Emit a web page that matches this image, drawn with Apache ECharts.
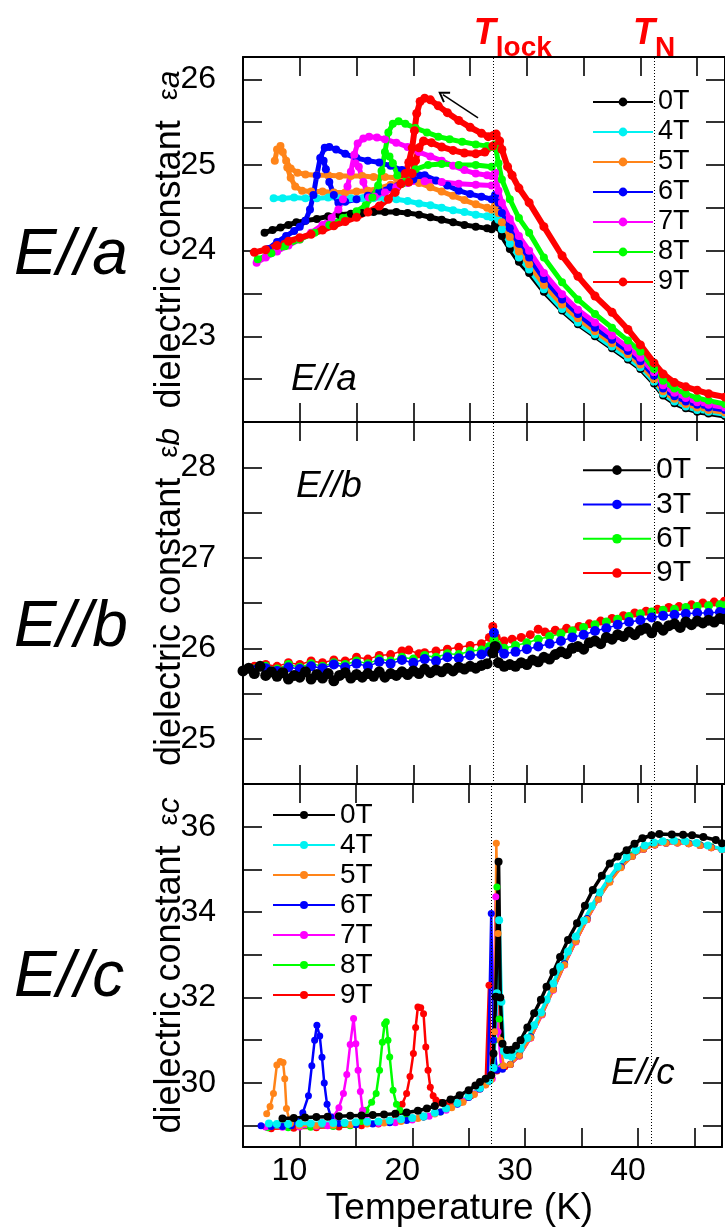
<!DOCTYPE html>
<html>
<head>
<meta charset="utf-8">
<script src="https://cdn.jsdelivr.net/npm/echarts@6/dist/echarts.min.js"></script>
<style>
html,body{margin:0;padding:0;background:#fff}
#chart{width:725px;height:1229px}
</style>
</head>
<body>
<div id="chart"></div>
<script>
// Transition temperatures (K)
const T_LOCK = 27.0;
const T_N = 41.2;

// Field labels and colours per panel
const aFields = ['0T', '4T', '5T', '6T', '7T', '8T', '9T'];
const aColors = ['#000000', '#00f2f2', '#ff8419', '#0000ff', '#ff00ff', '#00ff00', '#ff0000'];
const bFields = ['0T', '3T', '6T', '9T'];
const bColors = ['#000000', '#0000ff', '#00ff00', '#ff0000'];
const cFields = ['0T', '4T', '5T', '6T', '7T', '8T', '9T'];
const cColors = aColors;

// Tick values
const xTicks = [10, 20, 30, 40];
const aYTicks = [22.5, 23, 23.5, 24, 24.5, 25, 25.5, 26];
const aYLabels = [23, 24, 25, 26];
const bYTicks = [25, 25.5, 26, 26.5, 27, 27.5, 28];
const bYLabels = [25, 26, 27, 28];
const cYTicks = [29, 30, 31, 32, 33, 34, 35, 36];
const cYLabels = [30, 32, 34, 36];

// ---- E//a : [T (K), epsilon_a] ----
const aT0 = [[6.9,24.21],[7.6,24.24],[8.3,24.27],[9.0,24.3],[9.7,24.33],[10.5,24.35],[11.5,24.37],[12.5,24.4],[13.5,24.42],[14.5,24.43],[15.5,24.44],[16.5,24.45],[17.5,24.45],[18.5,24.45],[19.5,24.44],[20.5,24.42],[21.5,24.39],[22.5,24.36],[23.5,24.33],[24.5,24.3],[25.5,24.28],[26.5,24.26],[26.9,24.25],[27.2,24.31],[27.5,24.27],
  [27.8,24.17],[28.5,24.02],[29.3,23.87],[30.2,23.74],[31.5,23.52],[33.1,23.30],[34.5,23.14],[36.0,23.0],[37.5,22.86],[38.9,22.73],[40.0,22.62],[41.2,22.45],[42.0,22.31],[43.0,22.22],[44.0,22.16],[45.0,22.12],[46.0,22.1],[47.45,22.07]];
const aT4 = [[7.7,24.61],[8.5,24.61],[9.5,24.62],[10.5,24.61],[11.5,24.61],[12.5,24.62],[13.5,24.61],[14.5,24.61],[15.5,24.61],[16.5,24.61],[17.5,24.61],[18.5,24.6],[19.5,24.58],[20.5,24.55],[21.5,24.53],[22.5,24.5],[23.5,24.47],[24.5,24.45],[25.5,24.42],[26.5,24.4],[26.9,24.39],[27.2,24.43],[27.5,24.36],
  [27.8,24.25],[28.5,24.08],[29.3,23.92],[30.2,23.78],[31.5,23.55],[33.1,23.32],[34.5,23.16],[36.0,23.02],[37.5,22.88],[38.9,22.75],[40.0,22.64],[41.2,22.47],[42.0,22.33],[43.0,22.24],[44.0,22.18],[45.0,22.14],[46.0,22.12],[47.45,22.09]];
const aT5 = [[7.8,25.05],[8.0,25.18],[8.3,25.22],[8.5,25.15],[8.8,25.05],[9.2,24.96],[9.8,24.91],[10.5,24.89],[11.5,24.88],[12.5,24.88],[13.5,24.87],[14.5,24.87],[15.5,24.87],[16.5,24.86],[17.5,24.86],[18.5,24.85],[19.5,24.83],[20.5,24.79],[21.5,24.74],[22.5,24.69],[23.5,24.64],[24.5,24.59],[25.5,24.54],[26.5,24.5],[26.9,24.48],[27.2,24.53],[27.5,24.44],
  [27.8,24.33],[28.5,24.16],[29.3,23.99],[30.2,23.84],[31.5,23.6],[33.1,23.37],[34.5,23.21],[36.0,23.06],[37.5,22.92],[38.9,22.79],[40.0,22.67],[41.2,22.5],[42.0,22.36],[43.0,22.27],[44.0,22.21],[45.0,22.17],[46.0,22.14],[47.45,22.11]];
const aT5b = [[19.0,24.8],[18.0,24.77],[17.0,24.73],[16.0,24.7],[15.0,24.69],[14.0,24.68],[13.0,24.68],[12.0,24.69],[11.0,24.69],[10.2,24.7],[9.6,24.75],[9.2,24.85],[8.9,24.97]];
const aT6 = [[7.2,24.02],[8.0,24.1],[8.8,24.17],[9.5,24.23],[10.0,24.28],[10.5,24.35],[10.9,24.48],[11.2,24.65],[11.5,24.88],[11.8,25.08],[12.2,25.2],[12.6,25.21],[13.2,25.18],[14.0,25.13],[15.0,25.08],[16.0,25.05],[17.0,25.03],[18.0,24.99],[19.0,24.94],[20.0,24.91],[21.0,24.88],[22.0,24.82],[23.0,24.76],[24.0,24.7],[25.0,24.66],[26.0,24.63],[26.9,24.6],[27.2,24.65],[27.5,24.56],
  [27.8,24.44],[28.5,24.26],[29.3,24.08],[30.2,23.92],[31.5,23.67],[33.1,23.43],[34.5,23.26],[36.0,23.10],[37.5,22.96],[38.9,22.83],[40.0,22.71],[41.2,22.54],[42.0,22.39],[43.0,22.3],[44.0,22.24],[45.0,22.2],[46.0,22.17],[47.45,22.14]];
const aT6b = [[21.0,24.86],[20.0,24.83],[19.0,24.79],[18.0,24.74],[17.0,24.69],[16.0,24.64],[15.0,24.6],[14.0,24.57],[13.4,24.56],[13.0,24.65],[12.6,24.8],[12.3,24.95],[12.1,25.05]];
const aT7 = [[6.2,23.86],[7.0,23.92],[8.0,23.99],[9.0,24.06],[10.0,24.13],[11.0,24.21],[12.0,24.3],[12.8,24.38],[13.4,24.48],[13.8,24.6],[14.2,24.75],[14.5,24.92],[14.8,25.12],[15.1,25.25],[15.6,25.31],[16.1,25.33],[16.8,25.32],[17.5,25.3],[18.5,25.26],[19.5,25.21],[20.5,25.15],[21.5,25.1],[22.5,25.05],[23.5,24.99],[24.5,24.94],[25.5,24.9],[26.5,24.88],[26.9,24.87],[27.2,24.91],[27.5,24.7],
  [27.8,24.56],[28.5,24.37],[29.3,24.17],[30.2,24.0],[31.5,23.74],[33.1,23.49],[34.5,23.31],[36.0,23.16],[37.5,23.01],[38.9,22.87],[40.0,22.75],[41.2,22.58],[42.0,22.43],[43.0,22.34],[44.0,22.28],[45.0,22.23],[46.0,22.2],[47.45,22.17]];
const aT7b = [[26.9,24.76],[25.5,24.77],[24.0,24.78],[22.5,24.8],[21.0,24.81],[19.5,24.79],[18.5,24.74],[17.5,24.68],[16.6,24.63],[16.1,24.62],[15.6,24.8],[15.2,24.98],[14.9,25.02]];
const aT8 = [[6.3,23.9],[7.5,23.97],[8.7,24.05],[10.0,24.13],[11.3,24.21],[12.6,24.3],[13.8,24.38],[15.0,24.46],[15.8,24.53],[16.4,24.62],[16.9,24.76],[17.2,24.93],[17.5,25.15],[17.8,25.38],[18.2,25.48],[18.7,25.51],[19.3,25.48],[20.2,25.43],[21.2,25.38],[22.2,25.33],[23.2,25.3],[24.3,25.27],[25.5,25.24],[26.5,25.22],[26.9,25.21],[27.2,25.24],[27.5,25.02],
  [27.8,24.83],[28.5,24.6],[29.3,24.38],[30.2,24.21],[31.5,23.92],[33.1,23.63],[34.5,23.43],[36.0,23.26],[37.5,23.1],[38.9,22.95],[40.0,22.82],[41.2,22.62],[42.0,22.48],[43.0,22.39],[44.0,22.33],[45.0,22.28],[46.0,22.25],[47.45,22.21]];
const aT8b = [[26.9,24.98],[25.5,25.0],[24.0,25.0],[22.5,25.01],[21.3,25.0],[20.2,24.95],[19.4,24.83],[19.0,24.78],[18.6,24.88],[18.2,25.02],[17.9,25.1]];
const aT9 = [[6.0,23.98],[7.0,24.01],[8.0,24.06],[9.0,24.11],[10.0,24.15],[11.0,24.19],[12.0,24.24],[13.0,24.29],[14.0,24.34],[15.0,24.39],[16.0,24.45],[17.0,24.52],[17.8,24.6],[18.4,24.68],[18.9,24.78],[19.3,24.9],[19.6,25.03],[19.9,25.2],[20.1,25.4],[20.3,25.6],[20.6,25.74],[21.0,25.78],[21.5,25.76],[22.2,25.69],[23.0,25.61],[24.0,25.52],[25.0,25.44],[26.0,25.37],[26.6,25.33],[27.0,25.34],[27.3,25.36],[27.6,25.28],
  [27.8,25.18],[28.3,24.98],[28.7,24.88],[29.3,24.73],[30.2,24.56],[31.5,24.28],[33.1,23.94],[34.5,23.7],[36.0,23.47],[37.5,23.28],[38.9,23.08],[40.0,22.9],[41.2,22.69],[42.0,22.56],[43.0,22.46],[44.0,22.41],[45.0,22.37],[46.0,22.33],[47.45,22.29]];
const aT9b = [[27.0,25.22],[26.3,25.15],[25.5,25.13],[24.5,25.14],[23.5,25.17],[22.5,25.21],[21.6,25.26],[20.9,25.28],[20.5,25.2],[20.2,25.05],[19.9,24.9],[19.6,24.8]];

// ---- E//b : [T (K), epsilon_b] ----
const bT0 = [[5.0,25.75],[5.5,25.78],[6.0,25.72],[6.5,25.8],[7.0,25.7],[7.5,25.74],[8.0,25.69],[8.5,25.73],[9.0,25.66],[9.5,25.7],[10,25.68],[10.5,25.74],[11,25.66],[11.5,25.71],[12,25.67],[12.5,25.72],[13,25.64],[13.5,25.7],[14,25.73],[14.5,25.67],[15,25.71],[15.5,25.68],[16,25.72],[16.5,25.69],[17,25.74],[17.5,25.68],[18,25.72],[18.5,25.7],[19,25.74],[19.5,25.71],[20,25.75],[20.5,25.72],[21,25.77],[21.5,25.73],[22,25.76],[22.5,25.74],[23,25.78],[23.5,25.75],[24,25.79],[24.5,25.77],[25,25.8],[25.5,25.78],[26,25.81],[26.5,25.83],[27.0,25.95],[27.2,26.02],[27.5,25.84],[28,25.8],[28.5,25.82],[29,25.8],[29.5,25.84],[30,25.82],[30.5,25.87],[31,25.85],[31.5,25.9],[32,25.88],[32.5,25.93],[33,25.96],[33.5,25.94],[34,26.0],[34.5,26.02],[35,25.99],[35.5,26.06],[36,26.08],[36.5,26.05],[37,26.12],[37.5,26.1],[38,26.15],[38.5,26.13],[39,26.18],[39.5,26.15],[40,26.2],[40.5,26.22],[41,26.17],[41.5,26.24],[42,26.2],[42.5,26.25],[43,26.27],[43.5,26.23],[44,26.29],[44.5,26.26],[45,26.3],[45.5,26.28],[46,26.31],[46.5,26.29],[47,26.33],[47.4,26.32]];
const bT3 = [[6,25.76],[7,25.78],[8,25.75],[9,25.79],[10,25.77],[11,25.8],[12,25.78],[13,25.82],[14,25.79],[15,25.83],[16,25.8],[17,25.85],[18,25.83],[19,25.87],[20,25.84],[21,25.88],[22,25.86],[23,25.9],[24,25.89],[25,25.92],[26,25.93],[26.7,25.96],[27.1,26.17],[27.4,26.0],[28,25.94],[29,25.96],[30,25.99],[31,26.02],[32,26.05],[33,26.08],[34,26.12],[35,26.15],[36,26.19],[37,26.22],[38,26.26],[39,26.29],[40,26.31],[41,26.34],[42,26.36],[43,26.37],[44,26.38],[45,26.39],[46,26.39],[47,26.4],[47.4,26.39]];
const bT6 = [[6,25.77],[7,25.8],[8,25.77],[9,25.82],[10,25.79],[11,25.83],[12,25.8],[13,25.84],[14,25.82],[15,25.86],[16,25.83],[17,25.88],[18,25.86],[19,25.9],[20,25.88],[21,25.92],[22,25.9],[23,25.94],[24,25.93],[25,25.97],[26,25.98],[26.7,26.02],[27.1,26.1],[27.4,26.04],[28,26.0],[29,26.03],[30,26.06],[31,26.1],[32,26.13],[33,26.16],[34,26.19],[35,26.23],[36,26.26],[37,26.29],[38,26.32],[39,26.35],[40,26.38],[41,26.4],[42,26.42],[43,26.43],[44,26.45],[45,26.46],[46,26.47],[47,26.48],[47.4,26.47]];
const bT9 = [[6,25.8],[7,25.82],[8,25.8],[9,25.84],[10,25.82],[11,25.86],[12,25.84],[13,25.87],[14,25.86],[15,25.9],[16,25.88],[17,25.92],[18,25.93],[19,25.97],[19.6,25.98],[20.5,25.94],[21,25.95],[22,25.97],[23,25.99],[24,26.01],[25,26.03],[26,26.05],[26.7,26.12],[27.0,26.24],[27.3,26.12],[28,26.08],[28.7,26.1],[29.5,26.12],[30.3,26.15],[31,26.21],[31.6,26.18],[32.5,26.2],[33.5,26.22],[34.6,26.24],[35.5,26.27],[36.5,26.3],[37.5,26.33],[38.5,26.36],[39.5,26.39],[40.5,26.41],[41.5,26.43],[42.5,26.45],[43.4,26.46],[44.5,26.48],[45.5,26.5],[46.5,26.51],[47.4,26.52]];

// ---- E//c : [T (K), epsilon_c] ----
const cT0 = [[8.5,29.17],[9.5,29.18],[10.5,29.19],[11.5,29.2],[12.5,29.21],[13.5,29.22],[14.5,29.23],[15.5,29.24],[16.5,29.25],[17.5,29.26],[18.5,29.28],[19.5,29.31],[20.5,29.35],[21.3,29.4],[22.0,29.46],[22.7,29.53],[23.4,29.61],[24.2,29.71],[25.0,29.83],[25.6,29.94],[26.0,30.02],[26.5,30.1],[27.0,30.18],[27.2,30.69],[27.4,32.02],[27.65,35.18],[27.8,32.0],[28.0,30.92],[28.4,30.77],[28.8,30.78],[29.2,30.87],[29.6,31.0],[30.2,31.3],[30.8,31.63],[31.4,31.95],[31.9,32.25],[32.5,32.6],[33.1,32.95],[33.8,33.35],[34.6,33.74],[35.3,34.15],[36.0,34.52],[36.8,34.85],[37.5,35.14],[38.2,35.3],[39.0,35.45],[39.7,35.6],[40.4,35.73],[41.2,35.8],[41.9,35.83],[43.0,35.82],[44.0,35.81],[44.8,35.8],[45.8,35.76],[46.9,35.69],[47.45,35.61]];
const cT4 = [[7.3,29.05],[8.0,29.04],[9.0,29.04],[10.0,29.05],[11.0,29.05],[12.0,29.06],[13.0,29.06],[14.0,29.07],[15.0,29.08],[16.0,29.09],[17.0,29.1],[18.0,29.12],[19.0,29.15],[20.0,29.18],[21.0,29.22],[22.0,29.3],[23.0,29.4],[24.0,29.53],[25.0,29.69],[26.0,29.88],[26.8,30.05],[27.2,30.35],[27.5,32.1],[27.7,33.81],[27.9,31.9],[28.1,30.75],[28.4,30.65],[28.8,30.62],[29.6,30.8],[30.2,31.05],[30.8,31.35],[31.4,31.65],[31.9,31.95],[32.5,32.33],[33.1,32.72],[33.8,33.08],[34.5,33.43],[35.2,33.8],[35.9,34.14],[36.6,34.46],[37.4,34.78],[38.2,35.06],[39.0,35.29],[39.8,35.45],[40.6,35.56],[41.4,35.63],[42.2,35.66],[43.2,35.67],[44.2,35.66],[45.2,35.62],[46.2,35.56],[47.45,35.48]];
const cT5 = [[7.1,29.28],[7.4,29.45],[7.7,29.75],[8.0,30.42],[8.3,30.5],[8.55,30.48],[8.7,30.1],[8.85,29.4],[9.2,29.05],[10.0,29.0],[11.5,29.0],[13.0,29.01],[14.5,29.02],[16.0,29.04],[17.5,29.06],[19.0,29.1],[20.5,29.17],[22.0,29.27],[23.5,29.42],[24.5,29.55],[25.5,29.73],[26.5,29.95],[27.0,30.08],[27.3,31.2],[27.45,35.61],[27.6,33.5],[27.8,31.0],[28.1,30.4],[28.7,30.43],[29.5,30.64],[30.5,31.06],[31.5,31.6],[32.5,32.18],[33.5,32.77],[34.5,33.31],[35.5,33.83],[36.5,34.3],[37.5,34.7],[38.5,35.04],[39.5,35.3],[40.5,35.47],[41.5,35.57],[42.5,35.61],[43.5,35.62],[44.5,35.6],[45.5,35.56],[46.5,35.51],[47.45,35.46]];
const cT6 = [[6.6,29.0],[7.5,28.98],[8.5,28.98],[9.3,29.0],[9.8,29.1],[10.3,29.3],[10.8,29.7],[11.1,30.4],[11.35,31.0],[11.55,31.35],[11.8,31.1],[12.0,30.6],[12.2,30.0],[12.45,29.5],[12.8,29.2],[13.5,29.05],[15.0,29.02],[16.5,29.04],[18.0,29.07],[19.5,29.12],[21.0,29.2],[22.5,29.32],[24.0,29.5],[25.0,29.66],[26.0,29.86],[26.7,30.02],[27.0,33.97],[27.2,31.0],[27.5,30.3],[28.0,30.32],[28.7,30.44],[29.5,30.65],[30.5,31.08],[31.5,31.62],[32.5,32.2],[33.5,32.79],[34.5,33.33],[35.5,33.85],[36.5,34.32],[37.5,34.72],[38.5,35.06],[39.5,35.31],[40.5,35.48],[41.5,35.58],[42.5,35.62],[43.5,35.63],[44.5,35.61],[45.5,35.57],[46.5,35.52],[47.45,35.47]];
const cT7 = [[7.0,28.97],[8.5,28.96],[10.0,28.97],[11.5,28.98],[12.5,29.0],[13.0,29.2],[13.5,29.42],[13.9,29.75],[14.2,30.2],[14.5,30.9],[14.8,31.51],[15.0,30.92],[15.2,30.3],[15.4,29.8],[15.6,29.36],[16.0,29.12],[17.0,29.05],[18.5,29.07],[20.0,29.13],[21.5,29.22],[23.0,29.36],[24.5,29.57],[25.5,29.74],[26.5,29.96],[27.1,30.1],[27.4,34.36],[27.6,31.2],[27.9,30.35],[28.7,30.43],[29.5,30.63],[30.5,31.05],[31.5,31.59],[32.5,32.17],[33.5,32.76],[34.5,33.3],[35.5,33.82],[36.5,34.3],[37.5,34.71],[38.5,35.05],[39.5,35.31],[40.5,35.47],[41.5,35.57],[42.5,35.61],[43.5,35.62],[44.5,35.6],[45.5,35.56],[46.5,35.51],[47.45,35.46]];
const cT8 = [[7.2,28.95],[9.0,28.95],[11.0,28.96],[13.0,28.98],[14.5,29.0],[15.5,29.1],[15.9,29.36],[16.4,29.55],[16.8,29.75],[17.1,30.3],[17.35,30.95],[17.55,31.38],[17.7,31.43],[17.85,31.0],[18.0,30.61],[18.3,29.83],[18.6,29.5],[18.9,29.36],[19.5,29.17],[21.0,29.2],[22.5,29.32],[24.0,29.52],[25.0,29.67],[26.0,29.87],[26.9,30.06],[27.3,31.0],[27.5,34.59],[27.7,31.5],[27.9,30.38],[28.7,30.44],[29.5,30.66],[30.5,31.09],[31.5,31.63],[32.5,32.21],[33.5,32.79],[34.5,33.33],[35.5,33.85],[36.5,34.33],[37.5,34.73],[38.5,35.07],[39.5,35.33],[40.5,35.49],[41.5,35.59],[42.5,35.63],[43.5,35.64],[44.5,35.62],[45.5,35.58],[46.5,35.53],[47.45,35.48]];
const cT9 = [[7.5,28.93],[9.5,28.94],[11.5,28.95],[13.5,28.97],[15.5,29.0],[17.0,29.04],[18.0,29.12],[18.6,29.28],[19.1,29.5],[19.5,29.75],[19.8,30.15],[20.1,30.69],[20.3,31.3],[20.5,31.78],[20.75,31.76],[21.0,31.62],[21.2,30.84],[21.4,30.3],[21.6,29.9],[21.85,29.7],[22.1,29.6],[22.5,29.54],[22.9,29.5],[23.5,29.49],[24.3,29.55],[25.2,29.7],[26.0,29.86],[26.5,29.97],[26.8,32.29],[27.0,30.2],[27.5,30.28],[28.2,30.38],[28.7,30.43],[29.5,30.63],[30.5,31.05],[31.5,31.6],[32.5,32.18],[33.5,32.77],[34.5,33.31],[35.5,33.83],[36.5,34.31],[37.5,34.71],[38.5,35.05],[39.5,35.31],[40.5,35.47],[41.5,35.57],[42.5,35.61],[43.5,35.62],[44.5,35.6],[45.5,35.56],[46.5,35.51],[47.45,35.46]];

// ---- layout and styling ----
const FONT = '"Liberation Sans", Arial, Helvetica, sans-serif';
const X_MIN = 5, X_MAX = 47.45;
const GRID_LEFT = 243, GRID_W = 483;
const grids = [
  {left: GRID_LEFT, top: 57, width: GRID_W, height: 365},
  {left: GRID_LEFT, top: 422, width: GRID_W, height: 362},
  {left: GRID_LEFT, top: 784, width: GRID_W, height: 363}
];
const yRanges = [[22, 26.26], [24.5, 28.5], [28.5, 37]];
const yTickSets = [aYTicks, bYTicks, cYTicks];
const yLabelSets = [aYLabels, bYLabels, cYLabels];
const yNames = [
  'dielectric constant  {e|ε}{s|a}',
  'dielectric constant  {e|ε}{s|b}',
  'dielectric constant  {e|ε}{s|c}'
];
const yNamePad = [[0, 0, 0, 0], [0, 0, 0, 12], [0, 0, 0, 0]];

const axisLine = {show: true, onZero: false, lineStyle: {color: '#000', width: 2}};
const tickStyle = {color: '#000', width: 1.6};

const xAxes = [];
const yAxes = [];
grids.forEach((g, i) => {
  const last = i === grids.length - 1;
  xAxes.push({
    gridIndex: i, type: 'value', position: 'bottom', min: X_MIN, max: X_MAX, interval: 5,
    axisLine, splitLine: {show: false},
    axisTick: {show: true, inside: true, length: 19, lineStyle: tickStyle},
    axisLabel: {
      show: last, margin: 8, fontSize: 32, color: '#000', fontFamily: FONT,
      padding: [0, 20, 0, 0],
      formatter: v => (xTicks.indexOf(v) >= 0 ? String(v) : '')
    },
    name: last ? 'Temperature (K)' : '',
    nameLocation: 'middle', nameGap: 43, nameMoveOverlap: false,
    nameTextStyle: {fontSize: 37, color: '#000', fontFamily: FONT, padding: [0, 46, 0, 0]}
  });
  xAxes.push({
    gridIndex: i, type: 'value', position: 'top', min: X_MIN, max: X_MAX, interval: 5,
    axisLine, splitLine: {show: false},
    axisTick: {show: true, inside: true, length: 19, lineStyle: tickStyle},
    axisLabel: {show: false}
  });
  yAxes.push({
    gridIndex: i, type: 'value', position: 'left', min: yRanges[i][0], max: yRanges[i][1],
    axisLine, splitLine: {show: false},
    axisTick: {show: true, inside: true, length: 19, lineStyle: tickStyle, customValues: yTickSets[i]},
    axisLabel: {show: true, margin: 27, fontSize: 32, color: '#000', fontFamily: FONT, customValues: yLabelSets[i]},
    name: yNames[i], nameLocation: 'middle', nameRotate: 90, nameGap: 55, nameMoveOverlap: false,
    nameTextStyle: {
      fontSize: 36, color: '#000', fontFamily: FONT, padding: yNamePad[i],
      rich: {
        e: {fontSize: 27, color: '#000', fontFamily: FONT},
        s: {fontSize: 32, fontStyle: 'italic', color: '#000', fontFamily: FONT}
      }
    }
  });
  yAxes.push({
    gridIndex: i, type: 'value', position: 'right', min: yRanges[i][0], max: yRanges[i][1],
    axisLine, splitLine: {show: false},
    axisTick: {show: true, inside: true, length: 19, lineStyle: tickStyle, customValues: yTickSets[i]},
    axisLabel: {show: false}
  });
});

function curve(panel, field, color, data, opt) {
  const gi = 'abc'.indexOf(panel);
  return Object.assign({
    type: 'line', name: panel + ':' + field, data,
    xAxisIndex: gi * 2, yAxisIndex: gi * 2,
    symbol: 'circle', symbolSize: 8,
    lineStyle: {color, width: 5}, itemStyle: {color},
    animation: false, silent: true, clip: true
  }, opt || {});
}

const dotted = {type: [1, 2], color: '#000', width: 1};
const chevron = 'path://M0,10 L6,0 L12,10 L10.4,11 L6,3.6 L1.6,11 Z';
const redRich = {
  T: {fontSize: 36, fontWeight: 'bold', fontStyle: 'italic', color: '#ff0000', fontFamily: FONT, lineHeight: 36, verticalAlign: 'top'},
  s: {fontSize: 28, fontWeight: 'bold', color: '#ff0000', fontFamily: FONT, lineHeight: 28, padding: [18, 0, 0, 0], verticalAlign: 'top'}
};

const topMarks = {
  silent: true, symbol: ['none', 'none'], animation: false,
  lineStyle: dotted,
  label: {show: false},
  data: [
    {xAxis: T_LOCK, label: {show: true, position: 'end', distance: 5, offset: [20, 0], formatter: '{T|T}{s|lock}', rich: redRich}},
    {xAxis: T_N, label: {show: true, position: 'end', distance: 5, offset: [0, 0], formatter: '{T|T}{s|N}', rich: redRich}},
    // cooling-direction arrow
    [
      {coord: [25.7, 25.55], symbol: 'none', lineStyle: {type: 'solid', width: 1.5, color: '#000'}},
      {coord: [22.6, 25.82], symbol: chevron, symbolSize: [13, 11]}
    ]
  ]
};
const plainMarks = {
  silent: true, symbol: ['none', 'none'], animation: false,
  lineStyle: dotted, label: {show: false},
  data: [{xAxis: T_LOCK}, {xAxis: T_N}]
};

const thin = (c, w) => ({lineStyle: {color: c, width: w}});

const series = [
  curve('a', '0T', aColors[0], aT0, {markLine: topMarks}),
  curve('a', '4T', aColors[1], aT4),
  curve('a', '5T', aColors[2], aT5),
  curve('a', '5T', aColors[2], aT5b),
  curve('a', '6T', aColors[3], aT6),
  curve('a', '6T', aColors[3], aT6b),
  curve('a', '7T', aColors[4], aT7),
  curve('a', '7T', aColors[4], aT7b),
  curve('a', '8T', aColors[5], aT8),
  curve('a', '8T', aColors[5], aT8b),
  curve('a', '9T', aColors[6], aT9, {symbolSize: 9, lineStyle: {color: aColors[6], width: 6}}),
  curve('a', '9T', aColors[6], aT9b, {symbolSize: 9, lineStyle: {color: aColors[6], width: 6}}),

  curve('b', '9T', bColors[3], bT9, Object.assign({symbolSize: 9, markLine: plainMarks}, thin(bColors[3], 1.5))),
  curve('b', '6T', bColors[2], bT6, Object.assign({symbolSize: 9}, thin(bColors[2], 1.5))),
  curve('b', '3T', bColors[1], bT3, Object.assign({symbolSize: 10}, thin(bColors[1], 1.5))),
  curve('b', '0T', bColors[0], bT0, Object.assign({symbolSize: 11}, thin(bColors[0], 2))),

  curve('c', '9T', cColors[6], cT9, Object.assign({symbolSize: 7, markLine: plainMarks}, thin(cColors[6], 2.5))),
  curve('c', '8T', cColors[5], cT8, Object.assign({symbolSize: 7}, thin(cColors[5], 2.5))),
  curve('c', '7T', cColors[4], cT7, Object.assign({symbolSize: 7}, thin(cColors[4], 2.5))),
  curve('c', '6T', cColors[3], cT6, Object.assign({symbolSize: 7}, thin(cColors[3], 2.5))),
  curve('c', '5T', cColors[2], cT5, Object.assign({symbolSize: 7}, thin(cColors[2], 2.5))),
  curve('c', '4T', cColors[1], cT4, Object.assign({symbolSize: 8}, thin(cColors[1], 3.5))),
  curve('c', '0T', cColors[0], cT0, Object.assign({symbolSize: 8}, thin(cColors[0], 3.5)))
];

function legend(panel, fields, o) {
  return Object.assign({
    data: fields.map(f => panel + ':' + f),
    orient: 'vertical', padding: 0, itemGap: 0,
    selectedMode: false,
    formatter: n => n.split(':')[1],
    lineStyle: {width: 2},
    inactiveColor: '#000'
  }, o);
}

const legends = [
  legend('a', aFields, {left: 592, top: 87, itemWidth: 60, itemHeight: 11,
    textStyle: {fontSize: 27, lineHeight: 30, color: '#000', fontFamily: FONT}}),
  legend('b', bFields, {left: 582, top: 453, itemWidth: 68, itemHeight: 12,
    textStyle: {fontSize: 30, lineHeight: 34.3, color: '#000', fontFamily: FONT}}),
  legend('c', cFields, {left: 272, top: 800, itemWidth: 62, itemHeight: 10,
    textStyle: {fontSize: 28, lineHeight: 30, color: '#000', fontFamily: FONT}})
];

function label(text, x, y, size) {
  return {
    type: 'text', x, y, silent: true,
    style: {text, fill: '#000', font: 'italic ' + size + 'px ' + FONT, align: 'left', verticalAlign: 'middle'}
  };
}

const graphics = [
  label('E//a', 14, 256, 64),
  label('E//b', 14, 628, 64),
  label('E//c', 14, 978, 64),
  label('E//a', 291, 380, 37),
  label('E//b', 296, 487, 37),
  label('E//c', 611, 1074, 37)
];

const chart = echarts.init(document.getElementById('chart'), null, {renderer: 'canvas'});
chart.setOption({
  backgroundColor: '#fff',
  animation: false,
  grid: grids,
  xAxis: xAxes,
  yAxis: yAxes,
  legend: legends,
  series,
  graphic: graphics
});
</script>
</body>
</html>
